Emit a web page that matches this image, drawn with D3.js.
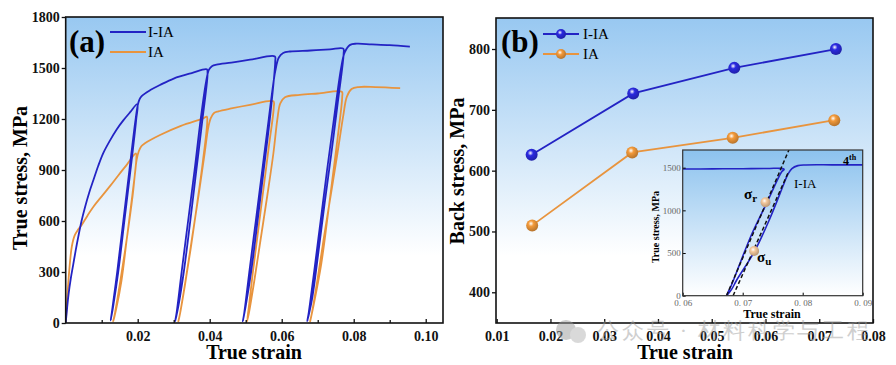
<!DOCTYPE html>
<html><head><meta charset="utf-8">
<script src="https://cdn.jsdelivr.net/npm/d3@7"></script>
<style>
html,body{margin:0;padding:0;background:#fff;}
svg{display:block;}
text{font-family:"Liberation Serif","Times New Roman",serif;}
</style></head>
<body>
<svg id="chart" width="896" height="365"></svg>
<script>
// ---------- DATA ----------
// Panel (a): loading–unloading true stress-strain curves [strain, stress MPa]
const iiaCurve = [
 [0,0],[0.0004,90],[0.0008,170],[0.0014,260],[0.0021,345],[0.0028,430],[0.0035,508],[0.0044,600],[0.0054,684],[0.0065,765],[0.0077,841],[0.0090,922],[0.0104,998],[0.0122,1070],[0.0142,1140],[0.0160,1192],[0.0179,1240],[0.0199,1288],
 [0.0196,1200],[0.0180,900],[0.0163,600],[0.0146,300],[0.0132,100],[0.0125,15],
 [0.0128,60],[0.0143,300],[0.0160,600],[0.0177,900],[0.0193,1180],[0.0200,1280],[0.0205,1315],[0.0211,1335],[0.0235,1370],[0.0262,1400],[0.0300,1438],[0.0350,1470],[0.0392,1492],
 [0.0394,1470],[0.0380,1200],[0.0363,900],[0.0346,600],[0.0328,300],[0.0313,100],[0.0304,10],
 [0.0308,60],[0.0322,300],[0.0340,600],[0.0358,900],[0.0375,1200],[0.0390,1420],[0.0398,1490],[0.0407,1512],[0.0419,1520],[0.0460,1532],[0.0512,1549],[0.0581,1568],
 [0.0582,1540],[0.0567,1200],[0.0550,900],[0.0533,600],[0.0515,300],[0.0500,100],[0.0492,10],
 [0.0496,60],[0.0510,300],[0.0528,600],[0.0546,900],[0.0564,1200],[0.0582,1480],[0.0592,1562],[0.0604,1588],[0.0623,1597],[0.0680,1603],[0.0734,1610],[0.0771,1614],
 [0.0772,1585],[0.0756,1300],[0.0738,1000],[0.0719,700],[0.0701,400],[0.0685,150],[0.0671,10],
 [0.0675,60],[0.0690,300],[0.0708,600],[0.0726,900],[0.0745,1200],[0.0765,1500],[0.0775,1592],[0.0790,1636],[0.0808,1643],[0.0850,1639],[0.0900,1634],[0.0956,1626]
];
const iaCurve = [
 [0,0],[0.0004,140],[0.0008,260],[0.0012,360],[0.0017,450],[0.0025,515],[0.0034,548],[0.0044,575],[0.0060,630],[0.0077,684],[0.0100,745],[0.0123,805],[0.0146,868],[0.0169,929],[0.0195,998],
 [0.0196,960],[0.0185,750],[0.0170,500],[0.0155,250],[0.0140,80],[0.0132,10],
 [0.0137,60],[0.0152,250],[0.0170,500],[0.0186,750],[0.0197,960],[0.0203,1010],[0.0210,1040],[0.0220,1057],[0.0262,1106],[0.0320,1160],[0.0382,1204],[0.0392,1214],
 [0.0393,1180],[0.0381,950],[0.0365,700],[0.0348,450],[0.0331,220],[0.0318,60],[0.0313,10],
 [0.0318,60],[0.0333,250],[0.0351,500],[0.0369,750],[0.0386,1000],[0.0396,1150],[0.0403,1205],[0.0412,1235],[0.0424,1245],[0.0460,1262],[0.0512,1283],[0.0577,1304],
 [0.0578,1270],[0.0565,1050],[0.0550,800],[0.0535,550],[0.0520,300],[0.0509,100],[0.0504,10],
 [0.0509,60],[0.0524,250],[0.0542,500],[0.0560,750],[0.0577,1000],[0.0588,1200],[0.0596,1292],[0.0609,1328],[0.0650,1342],[0.0700,1350],[0.0767,1360],
 [0.0768,1330],[0.0756,1100],[0.0741,850],[0.0726,600],[0.0710,350],[0.0690,120],[0.0679,10],
 [0.0684,60],[0.0699,250],[0.0717,500],[0.0736,750],[0.0755,1000],[0.0771,1220],[0.0781,1332],[0.0794,1376],[0.0813,1388],[0.0860,1388],[0.0929,1382]
];
const seriesNames = ["I-IA","IA"];
const aXTicks = [0.02,0.04,0.06,0.08,0.10];
const aYTicks = [0,300,600,900,1200,1500,1800];

// Panel (b): back stress vs true strain
const bStrainIIA = [0.0165,0.0354,0.0542,0.0731];
const bBackIIA   = [626,727,769,800];
const bStrainIA  = [0.0166,0.0352,0.0539,0.0728];
const bBackIA    = [510,630,654,683];
const bXTicks = [0.01,0.02,0.03,0.04,0.05,0.06,0.07,0.08];
const bYTicks = [400,500,600,700,800];

// Inset: 4th loop of I-IA
const insetCurve = [
 [0.0600,1484],[0.0650,1486],[0.0700,1488],[0.0745,1491],[0.0762,1492],[0.0769,1480],
 [0.0765,1452],[0.0740,1085],[0.0715,720],[0.0695,370],[0.0681,120],[0.0673,0],
 [0.0682,80],[0.0690,184],[0.0720,523],[0.0745,900],[0.0768,1300],[0.0775,1420],[0.0782,1490],[0.0792,1524],[0.0805,1532],[0.0850,1533],[0.0900,1533]
];
const insetDash1 = [[0.0673,0],[0.0777,1707]];
const insetDash2 = [[0.0684,0],[0.0776,1445]];
const insetPoints = [{label:"r", x:0.0738, y:1094},{label:"u", x:0.0719, y:523}];
const insetXTicks = [0.06,0.07,0.08,0.09];
const insetYTicks = [0,500,1000,1500];

// ---------- STYLE ----------
const BLUE = "#2323c4", ORANGE = "#e8943e";
const svg = d3.select("#chart");
const defs = svg.append("defs");

function bgGrad(id, top, stop){
  const g = defs.append("linearGradient").attr("id", id).attr("x1",0).attr("y1",0).attr("x2",0).attr("y2",1);
  g.append("stop").attr("offset","0%").attr("stop-color",top);
  g.append("stop").attr("offset",stop).attr("stop-color","#ffffff");
  g.append("stop").attr("offset","100%").attr("stop-color","#ffffff");
}
bgGrad("bgA","#98c8f1","78%");
bgGrad("bgB","#98c8f1","78%");
bgGrad("bgI","#8cc2ee","100%");

function ballGrad(id, c){
  const g = defs.append("radialGradient").attr("id", id).attr("cx","40%").attr("cy","35%").attr("r","65%");
  g.append("stop").attr("offset","0%").attr("stop-color","#ffffff");
  g.append("stop").attr("offset","35%").attr("stop-color",c);
  g.append("stop").attr("offset","100%").attr("stop-color",d3.color(c).darker(0.8));
}
ballGrad("ballBlue", "#2a2ae0");
ballGrad("ballOrange", "#f39a3a");
ballGrad("ballPeach", "#f4c89c");

// ---------- PANEL A ----------
const A = {l:65.7, r:443, t:17, b:323};
const xA = d3.scaleLinear().domain([0,0.1048]).range([A.l, A.r]);
const yA = d3.scaleLinear().domain([0,1800]).range([A.b, A.t]);
const gA = svg.append("g");
gA.append("rect").attr("x",A.l).attr("y",A.t).attr("width",A.r-A.l).attr("height",A.b-A.t).attr("fill","url(#bgA)");
defs.append("clipPath").attr("id","clipA").append("rect").attr("x",A.l).attr("y",A.t-2).attr("width",A.r-A.l).attr("height",A.b-A.t+2);

const lineA = d3.line().x(d=>xA(d[0])).y(d=>yA(d[1])).curve(d3.curveCatmullRom.alpha(0.5));
const curvesA = gA.append("g").attr("clip-path","url(#clipA)");
curvesA.append("path").datum(iaCurve).attr("d",lineA).attr("fill","none").attr("stroke",ORANGE).attr("stroke-width",1.8).attr("stroke-linejoin","round");
curvesA.append("path").datum(iiaCurve).attr("d",lineA).attr("fill","none").attr("stroke",BLUE).attr("stroke-width",1.8).attr("stroke-linejoin","round");

// axes A
gA.append("g").attr("transform",`translate(0,${A.b})`)
  .call(d3.axisBottom(xA).tickValues(aXTicks).tickFormat(d3.format(".2f")).tickSizeInner(-4).tickSizeOuter(0).tickPadding(8));
gA.append("g").attr("transform",`translate(0,${A.b})`)
  .call(d3.axisBottom(xA).tickValues([0.01,0.03,0.05,0.07,0.09]).tickFormat("").tickSizeInner(-3).tickSizeOuter(0));
gA.append("g").attr("transform",`translate(${A.l},0)`)
  .call(d3.axisLeft(yA).tickValues(aYTicks).tickFormat(d3.format("d")).tickSizeInner(4).tickSizeOuter(0).tickPadding(2));
gA.append("rect").attr("x",A.l).attr("y",A.t).attr("width",A.r-A.l).attr("height",A.b-A.t).attr("fill","none").attr("stroke","#111").attr("stroke-width",1.6);

gA.append("text").attr("x",254).attr("y",359).attr("text-anchor","middle").attr("font-size","20px").attr("font-weight","bold").text("True strain");
gA.append("text").attr("transform",`translate(27,178) rotate(-90)`).attr("text-anchor","middle").attr("font-size","20px").attr("font-weight","bold").text("True stress, MPa");
gA.append("text").attr("x",69).attr("y",52).attr("font-size","31px").attr("font-weight","bold").text("(a)");
const legA = [{n:seriesNames[0], c:BLUE, y:32},{n:seriesNames[1], c:ORANGE, y:52}];
legA.forEach(d=>{
  gA.append("line").attr("x1",110).attr("x2",146).attr("y1",d.y).attr("y2",d.y).attr("stroke",d.c).attr("stroke-width",1.8);
  gA.append("text").attr("x",148).attr("y",d.y+5).attr("font-size","15px").text(d.n);
});

// ---------- PANEL B ----------
const B = {l:496, r:873, t:18, b:323};
const xB = d3.scaleLinear().domain([0.01,0.08]).range([B.l+0.7, B.r]);
const yB = d3.scaleLinear().domain([349.5,851]).range([B.b, B.t]);
const gB = svg.append("g");
gB.append("rect").attr("x",B.l).attr("y",B.t).attr("width",B.r-B.l).attr("height",B.b-B.t).attr("fill","url(#bgB)");

const lineB = d3.line().x(d=>xB(d[0])).y(d=>yB(d[1]));
const bSeries = [
  {name:seriesNames[0], xs:bStrainIIA, ys:bBackIIA, c:BLUE, ball:"url(#ballBlue)"},
  {name:seriesNames[1], xs:bStrainIA, ys:bBackIA, c:ORANGE, ball:"url(#ballOrange)"}
];
bSeries.forEach(s=>{
  const pts = s.xs.map((x,i)=>[x, s.ys[i]]);
  gB.append("path").datum(pts).attr("d",lineB).attr("fill","none").attr("stroke",s.c).attr("stroke-width",1.8);
  gB.selectAll(null).data(pts).enter().append("circle")
    .attr("cx",d=>xB(d[0])).attr("cy",d=>yB(d[1])).attr("r",6).attr("fill",s.ball);
});

gB.append("g").attr("transform",`translate(0,${B.b})`)
  .call(d3.axisBottom(xB).tickValues(bXTicks).tickFormat(d3.format(".2f")).tickSizeInner(-4).tickSizeOuter(0).tickPadding(8));
gB.append("g").attr("transform",`translate(${B.l},0)`)
  .call(d3.axisLeft(yB).tickValues(bYTicks).tickFormat(d3.format("d")).tickSizeInner(4).tickSizeOuter(0).tickPadding(2));
gB.append("rect").attr("x",B.l).attr("y",B.t).attr("width",B.r-B.l).attr("height",B.b-B.t).attr("fill","none").attr("stroke","#111").attr("stroke-width",1.6);

gB.append("text").attr("x",685).attr("y",359).attr("text-anchor","middle").attr("font-size","20px").attr("font-weight","bold").text("True strain");
gB.append("text").attr("transform",`translate(464,171) rotate(-90)`).attr("text-anchor","middle").attr("font-size","20px").attr("font-weight","bold").text("Back stress, MPa");
gB.append("text").attr("x",501).attr("y",52).attr("font-size","31px").attr("font-weight","bold").text("(b)");
const legB = [{n:seriesNames[0], c:BLUE, ball:"url(#ballBlue)", y:34},{n:seriesNames[1], c:ORANGE, ball:"url(#ballOrange)", y:54}];
legB.forEach(d=>{
  gB.append("line").attr("x1",543).attr("x2",579).attr("y1",d.y).attr("y2",d.y).attr("stroke",d.c).attr("stroke-width",1.8);
  gB.append("circle").attr("cx",561).attr("cy",d.y).attr("r",5).attr("fill",d.ball);
  gB.append("text").attr("x",583).attr("y",d.y+5).attr("font-size","15px").text(d.n);
});

// ---------- INSET ----------
const I = {l:682.7, r:862.7, t:150, b:295.7};
const xI = d3.scaleLinear().domain([0.06,0.09]).range([I.l, I.r]);
const yI = d3.scaleLinear().domain([0,1707]).range([I.b, I.t]);
const gI = svg.append("g");
gI.append("rect").attr("x",I.l).attr("y",I.t).attr("width",I.r-I.l).attr("height",I.b-I.t).attr("fill","url(#bgI)");
defs.append("clipPath").attr("id","clipI").append("rect").attr("x",I.l).attr("y",I.t).attr("width",I.r-I.l).attr("height",I.b-I.t);
const lineI = d3.line().x(d=>xI(d[0])).y(d=>yI(d[1])).curve(d3.curveCatmullRom.alpha(0.5));
const lineIs = d3.line().x(d=>xI(d[0])).y(d=>yI(d[1]));
const ci = gI.append("g").attr("clip-path","url(#clipI)");
ci.append("path").datum(insetCurve).attr("d",lineI).attr("fill","none").attr("stroke",BLUE).attr("stroke-width",1.6).attr("stroke-linejoin","round");
[insetDash1, insetDash2].forEach(dl=>{
  ci.append("path").datum(dl).attr("d",lineIs).attr("fill","none").attr("stroke","#111").attr("stroke-width",1.5).attr("stroke-dasharray","4,2.5");
});
insetPoints.forEach(p=>{
  gI.append("circle").attr("cx",xI(p.x)).attr("cy",yI(p.y)).attr("r",5).attr("fill","url(#ballPeach)");
});
const sr = gI.append("text").attr("x",744).attr("y",199).attr("font-size","15px").attr("font-weight","bold");
sr.append("tspan").text("σ"); sr.append("tspan").attr("font-size","11px").attr("dy",3).text("r");
const su = gI.append("text").attr("x",757).attr("y",262).attr("font-size","15px").attr("font-weight","bold");
su.append("tspan").text("σ"); su.append("tspan").attr("font-size","11px").attr("dy",3).text("u");
gI.append("text").attr("x",794).attr("y",188).attr("font-size","13px").text("I-IA");
const th = gI.append("text").attr("x",843).attr("y",165).attr("font-size","12px").attr("font-weight","bold");
th.append("tspan").text("4"); th.append("tspan").attr("font-size","8px").attr("dy",-5).text("th");

const axIx = gI.append("g").attr("transform",`translate(0,${I.b})`)
  .call(d3.axisBottom(xI).tickValues(insetXTicks).tickFormat(d=>d3.format(".2f")(d).replace(".", ". ")).tickSizeInner(-3).tickSizeOuter(0).tickPadding(4));
const axIy = gI.append("g").attr("transform",`translate(${I.l},0)`)
  .call(d3.axisLeft(yI).tickValues(insetYTicks).tickFormat(d3.format("d")).tickSizeInner(-3).tickSizeOuter(0).tickPadding(2));
[axIx, axIy].forEach(a=>{
  a.selectAll("text").attr("font-size","9px").attr("font-family","'Liberation Serif',serif").attr("fill","#666");
  a.select(".domain").remove();
});
gI.append("rect").attr("x",I.l).attr("y",I.t).attr("width",I.r-I.l).attr("height",I.b-I.t).attr("fill","none").attr("stroke","#333").attr("stroke-width",1.2);
gI.append("text").attr("x",772).attr("y",318).attr("text-anchor","middle").attr("font-size","12px").attr("font-weight","bold").text("True strain");
gI.append("text").attr("transform",`translate(659,227) rotate(-90)`).attr("text-anchor","middle").attr("font-size","10px").attr("font-weight","bold").text("True stress, MPa");

[gA, gB].forEach(g=>{
  g.selectAll(":scope > g .tick text").attr("font-size","14px").attr("font-weight","bold").attr("font-family","'Liberation Serif',serif").attr("fill","#111");
  g.selectAll(":scope > g .domain").remove();
  g.selectAll(":scope > g .tick line").attr("stroke","#111").attr("stroke-width",1.3);
});

// watermark overlay (as in the reference image)
const wm = svg.append("g").attr("opacity",0.5);
wm.append("circle").attr("cx",566).attr("cy",330).attr("r",10).attr("fill","#9a9a9a");
wm.append("circle").attr("cx",578).attr("cy",335).attr("r",8).attr("fill","#b5b5b5");
wm.append("text").attr("x",597).attr("y",338).attr("font-family","'Noto Sans CJK SC',sans-serif").attr("font-size","22px").attr("fill","#a0a0a0").attr("textLength",272).text("公众号 · 材料科学与工程");
</script>
</body></html>
